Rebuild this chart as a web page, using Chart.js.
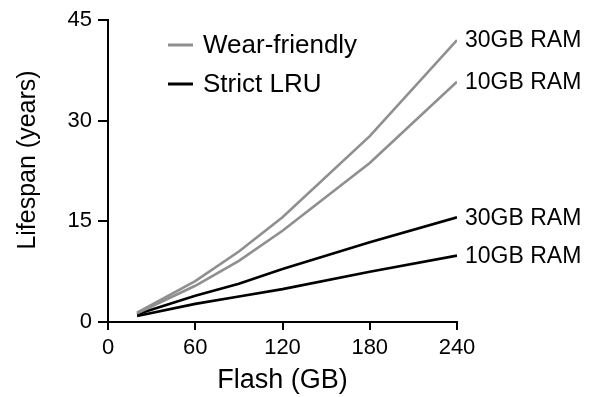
<!DOCTYPE html>
<html>
<head>
<meta charset="utf-8">
<script src="https://cdn.jsdelivr.net/npm/chart.js@4"></script>
<style>
    html, body { margin: 0; padding: 0; background: #fff; }
    #wrap { width: 597px; height: 397px; }
</style>
</head>
<body>
<div id="wrap"><canvas id="lifespanChart" width="597" height="397"></canvas></div>
<script>
// Values
const flashGB = [20, 60, 90, 120, 180, 240];
const wear30 = [1.4, 6.1, 10.5, 15.6, 27.7, 42.0];
const wear10 = [1.3, 5.4, 9.1, 13.6, 23.7, 35.8];
const strict30 = [1.15, 3.9, 5.7, 7.9, 11.9, 15.6];
const strict10 = [0.9, 2.7, 3.8, 4.9, 7.5, 9.9];
const xTicks = [0, 60, 120, 180, 240];
const yTicks = [0, 15, 30, 45];
const legendNames = ['Wear-friendly', 'Strict LRU'];
const endLabels = ['30GB RAM', '10GB RAM', '30GB RAM', '10GB RAM'];
const yTitle = 'Lifespan (years)';

const GRAY = '#8f8f8f';
const BLACK = '#000000';
const FONT = '"Liberation Sans", Arial, Helvetica, sans-serif';

function toPoints(values) {
    return flashGB.map((x, i) => ({ x: x, y: values[i] }));
}

const lineStyle = { borderWidth: 2.6, pointRadius: 0, tension: 0, fill: false };

// Text at the right end of each line
const endLabelPlugin = {
    id: 'endLabels',
    afterDatasetsDraw(chart) {
        const ctx = chart.ctx;
        ctx.save();
        ctx.font = '23px ' + FONT;
        ctx.fillStyle = '#000';
        ctx.textAlign = 'left';
        ctx.textBaseline = 'middle';
        chart.data.datasets.forEach((ds, i) => {
            const meta = chart.getDatasetMeta(i);
            const last = meta.data[meta.data.length - 1];
            ctx.fillText(endLabels[i], last.x + 8, last.y + 1);
        });
        ctx.restore();
    }
};

// Legend drawn inside the plot area, plus the y title (sits a bit above centre in the original)
const insideLegendPlugin = {
    id: 'insideLegend',
    afterDraw(chart) {
        const ctx = chart.ctx;
        const area = chart.chartArea;
        const colors = [GRAY, BLACK];
        ctx.save();
        ctx.font = '26px ' + FONT;
        ctx.textBaseline = 'middle';
        legendNames.forEach((name, i) => {
            const y = area.top + 25 + i * 39;
            const x0 = area.left + 60;
            ctx.strokeStyle = colors[i];
            ctx.lineWidth = 3;
            ctx.beginPath();
            ctx.moveTo(x0, y);
            ctx.lineTo(x0 + 25, y);
            ctx.stroke();
            ctx.fillStyle = '#000';
            ctx.fillText(name, x0 + 35, y + 1);
        });

        ctx.translate(28, (area.top + area.bottom) / 2 - 11);
        ctx.rotate(-Math.PI / 2);
        ctx.textAlign = 'center';
        ctx.font = '25px ' + FONT;
        ctx.fillText(yTitle, 0, 0);
        ctx.restore();
    }
};

new Chart(document.getElementById('lifespanChart'), {
    type: 'line',
    data: {
        datasets: [
            { label: 'Wear-friendly 30GB', data: toPoints(wear30), borderColor: GRAY, ...lineStyle },
            { label: 'Wear-friendly 10GB', data: toPoints(wear10), borderColor: GRAY, ...lineStyle },
            { label: 'Strict LRU 30GB', data: toPoints(strict30), borderColor: BLACK, ...lineStyle },
            { label: 'Strict LRU 10GB', data: toPoints(strict10), borderColor: BLACK, ...lineStyle }
        ]
    },
    options: {
        responsive: false,
        animation: false,
        layout: { padding: { left: 0, right: 140, top: 20, bottom: 0 } },
        plugins: {
            legend: { display: false },
            tooltip: { enabled: false }
        },
        scales: {
            x: {
                type: 'linear',
                min: 0,
                max: 240,
                afterBuildTicks: axis => { axis.ticks = xTicks.map(v => ({ value: v })); },
                afterFit: axis => { axis.height = 397 - 322; },
                border: { display: true, color: '#000', width: 2 },
                grid: { drawOnChartArea: false, drawTicks: true, tickLength: 8, color: '#000', lineWidth: 2 },
                ticks: { color: '#000', font: { family: FONT, size: 22 }, padding: 5, maxRotation: 0 },
                title: { display: true, text: 'Flash (GB)', color: '#000', font: { family: FONT, size: 27 }, padding: { top: 3, bottom: 0 } }
            },
            y: {
                type: 'linear',
                min: 0,
                max: 45,
                afterBuildTicks: axis => { axis.ticks = yTicks.map(v => ({ value: v })); },
                afterFit: axis => { axis.width = 108; },
                border: { display: true, color: '#000', width: 2 },
                grid: { drawOnChartArea: false, drawTicks: true, tickLength: 10, color: '#000', lineWidth: 2 },
                ticks: { color: '#000', font: { family: FONT, size: 22 }, padding: 6 },
                title: { display: false }
            }
        }
    },
    plugins: [endLabelPlugin, insideLegendPlugin]
});
</script>
</body>
</html>
